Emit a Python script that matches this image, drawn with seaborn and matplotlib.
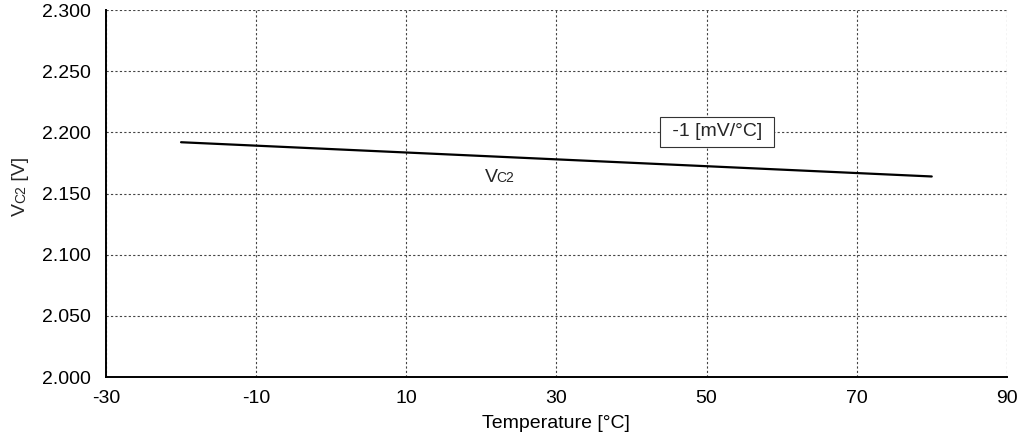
import numpy as np
import pandas as pd
import matplotlib
matplotlib.use("Agg")
import matplotlib.pyplot as plt
import seaborn as sns

# values
temps = [-20, 30, 80]
vc2 = [2.192, 2.178, 2.164]
x_ticks = [-30, -10, 10, 30, 50, 70, 90]
y_ticks = [2.000, 2.050, 2.100, 2.150, 2.200, 2.250, 2.300]

FS = 14
FS_SMALL = 10

sns.set_theme(style="white")
plt.rcParams["font.family"] = ["Liberation Sans", "DejaVu Sans"]

df = pd.DataFrame({"Temperature": temps, "VC2": vc2})

fig = plt.figure(figsize=(10.26, 4.42), dpi=100)
ax = fig.add_axes([0.1033, 0.147, 0.878, 0.830])

sns.lineplot(data=df, x="Temperature", y="VC2", color="black",
             linewidth=1.6, ax=ax)

ax.set_xlim(-30, 90)
ax.set_ylim(2.0, 2.3)
ax.set_xticks(x_ticks)
ax.set_yticks(y_ticks)
ax.set_xticklabels([str(t) for t in x_ticks], fontsize=FS, color="black")
ax.set_yticklabels([f"{t:.3f}" for t in y_ticks], fontsize=FS, color="black")
ax.tick_params(axis="x", length=0, pad=9)
ax.tick_params(axis="y", length=0, pad=11)
ax.grid(True, linestyle=(0, (2, 2)), color="#444444", linewidth=0.8)

for side in ["top", "right"]:
    ax.spines[side].set_visible(False)
for side in ["left", "bottom"]:
    ax.spines[side].set_color("black")
    ax.spines[side].set_linewidth(1.4)

ax.set_xlabel("Temperature [°C]", fontsize=FS, color="black", labelpad=6)
ax.set_ylabel("")

# y label "VC2 [V]" with small C2, rotated
yl_x, yl_y = 25 / 1026, 1 - 203 / 442
fig.text(yl_x, yl_y, "V", rotation=90, rotation_mode="anchor",
         ha="right", va="baseline", fontsize=FS)
fig.text(yl_x, yl_y, "C2", rotation=90, rotation_mode="anchor",
         ha="left", va="baseline", fontsize=FS_SMALL)
fig.text(yl_x, yl_y + 17 / 442, " [V]", rotation=90, rotation_mode="anchor",
         ha="left", va="baseline", fontsize=FS)

# curve label
ax.text(22.2, 2.1595, "V", ha="right", va="baseline", fontsize=FS)
ax.text(22.0, 2.1595, "C2", ha="left", va="baseline", fontsize=FS_SMALL)

# slope box
ax.text(51.4, 2.2005, " -1 [mV/°C] ", ha="center", va="center", fontsize=FS,
        bbox=dict(boxstyle="square,pad=0.35", facecolor="white",
                  edgecolor="#333333", linewidth=0.8))

fig.savefig("out.png", dpi=100)
